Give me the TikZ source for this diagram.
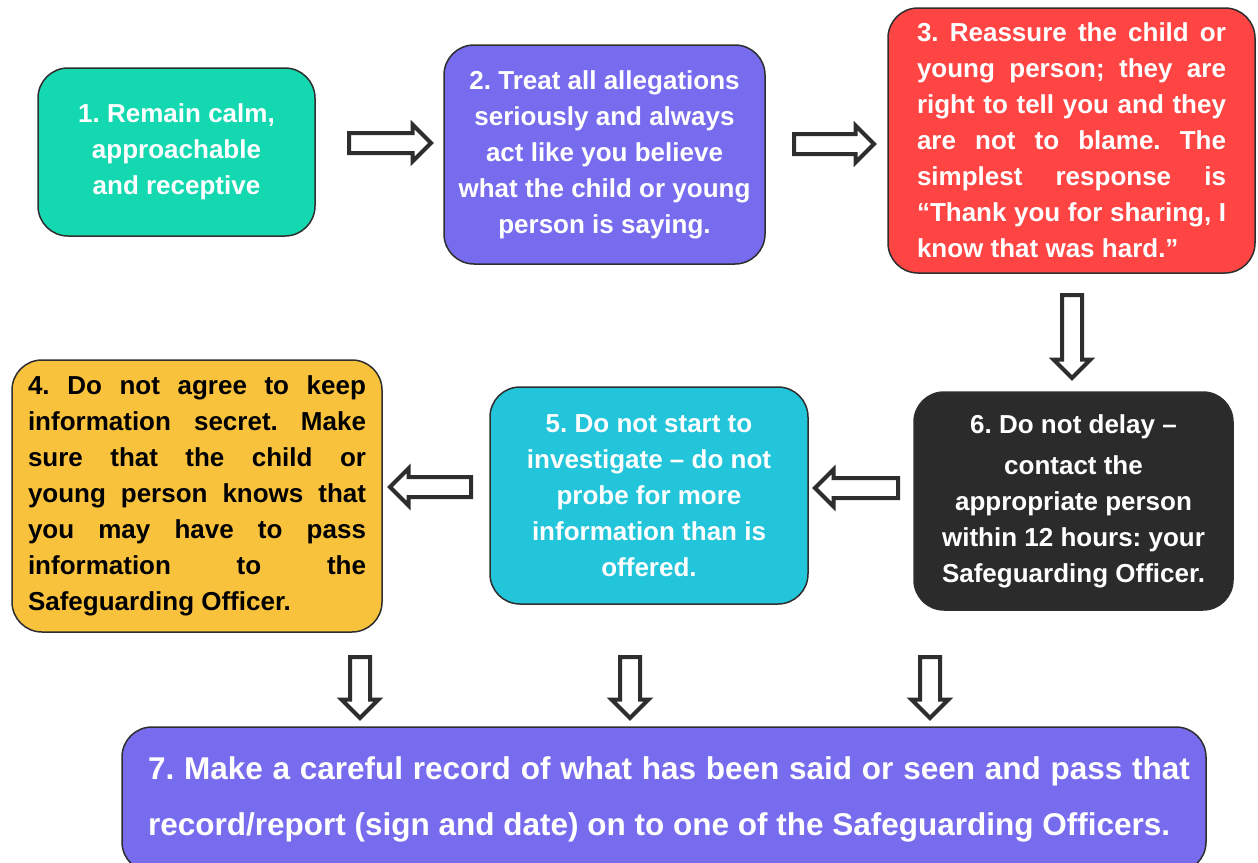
\documentclass[tikz,border=0pt]{standalone}
\usepackage{fontspec}
\setmainfont{Liberation Sans}
\usetikzlibrary{shapes.arrows}
\definecolor{cteal}{HTML}{14D8B0}
\definecolor{cpurple}{HTML}{786CEE}
\definecolor{cred}{HTML}{FF4444}
\definecolor{corange}{HTML}{F9C23C}
\definecolor{ccyan}{HTML}{22C5DA}
\definecolor{cdark}{HTML}{2B2B2B}
\definecolor{cline}{HTML}{2E2E2E}
\frenchspacing
\begin{document}
\begin{tikzpicture}[x=1pt,y=-1pt,
  stepbox/.style={draw=cline, line width=1.5pt, rounded corners=30pt, inner sep=0pt,
    font=\bfseries\fontsize{26}{36}\selectfont, text=white, align=center},
  justbox/.style={align=justify, text width=#1},
  blockarrow/.style={single arrow, draw=cline, fill=white, line width=4pt,
    inner xsep=0pt, inner ysep=8pt, single arrow head extend=8.5pt, anchor=center}]
\useasboundingbox (0,0) rectangle (1258,862);
\clip (0,0) rectangle (1258,862);

\node[stepbox, fill=cteal, minimum width=277pt, minimum height=168pt] (b1) at (176.5,152)
  {1. Remain calm,\\approachable\\and receptive};
\node[stepbox, fill=cpurple, minimum width=321pt, minimum height=219pt] (b2) at (604.5,154.5)
  {2. Treat all allegations\\seriously and always\\act like you believe\\what the child or young\\person is saying.};
\node[stepbox, fill=cred, minimum width=367pt, minimum height=265pt, justbox=309pt] (b3) at (1071.5,140.5)
  {3. Reassure the child or\linebreak young person; they are\linebreak right to tell you and they\linebreak are not to blame. The\linebreak simplest response is\linebreak “Thank you for sharing, I\linebreak know that was hard.”};
\node[stepbox, fill=corange, text=black, minimum width=370pt, minimum height=272pt, justbox=338pt] (b4) at (197,496)
  {4. Do not agree to keep\linebreak information secret. Make\linebreak sure that the child or\linebreak young person knows that\linebreak you may have to pass\linebreak information to the\linebreak Safeguarding Officer.};
\node[stepbox, fill=ccyan, minimum width=318pt, minimum height=217pt] (b5) at (649,495.5)
  {5. Do not start to\\investigate – do not\\probe for more\\information than is\\offered.};
\node[stepbox, fill=cdark, minimum width=319pt, minimum height=218pt] (b6) at (1073.5,501)
  {6. Do not delay –\\[5pt]contact the\\appropriate person\\within 12 hours: your\\Safeguarding Officer.};
\node[stepbox, fill=cpurple, minimum width=1084pt, minimum height=145pt] (b7) at (664,799.5) {};
\node[font=\bfseries\fontsize{31.5}{56}\selectfont, text=white, inner sep=0pt, justbox=1042pt] (t7) at (669,799)
  {7. Make a careful record of what has been said or seen and pass that\linebreak record/report (sign and date) on to one of the Safeguarding Officers.};

\node[blockarrow, minimum height=82pt] (a12) at (385,143) {};
\node[blockarrow, minimum height=80pt] (a23) at (829,144) {};
\node[blockarrow, minimum height=83pt, rotate=-90] (a36) at (1072,331.5) {};
\node[blockarrow, minimum height=83pt, rotate=180] (a65) at (861.5,488) {};
\node[blockarrow, minimum height=81pt, rotate=180] (a54) at (435.5,487) {};
\node[blockarrow, minimum height=61pt, rotate=-90] (a47) at (360,682.5) {};
\node[blockarrow, minimum height=61pt, rotate=-90] (a57) at (630,682.5) {};
\node[blockarrow, minimum height=61pt, rotate=-90] (a67) at (930,682.5) {};
\end{tikzpicture}
\end{document}
